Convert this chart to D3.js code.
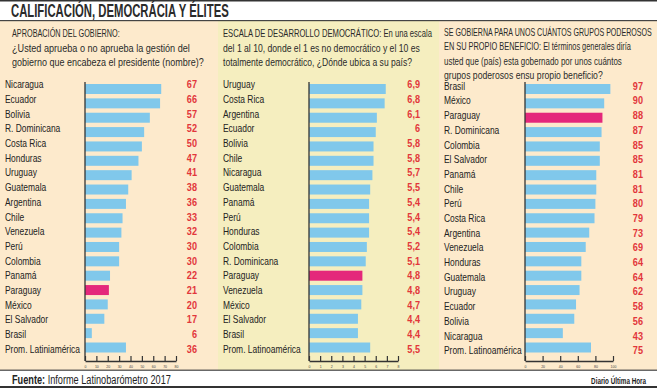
<!DOCTYPE html>
<html>
<head>
<meta charset="utf-8">
<script src="https://d3js.org/d3.v7.min.js"></script>
<style>
  body { margin: 0; background: #fff; }
  svg text { font-family: "Liberation Sans", Arial, sans-serif; }
</style>
</head>
<body>
<div id="chart"></div>
<script>
var width = 657, height = 388;

// Aprobación del gobierno (%)
var aprobCats = ["Nicaragua", "Ecuador", "Bolivia", "R. Dominicana", "Costa Rica", "Honduras", "Uruguay",
  "Guatemala", "Argentina", "Chile", "Venezuela", "Perú", "Colombia", "Panamá", "Paraguay", "México",
  "El Salvador", "Brasil", "Prom. Latiniamérica"];
var aprobVals = [67, 66, 57, 52, 50, 47, 41, 38, 36, 33, 32, 30, 30, 22, 21, 20, 17, 6, 36];
var aprobTicks = [0, 10, 20, 30, 40, 50, 60, 70, 80];

// Escala de desarrollo democrático (1-10)
var escalaCats = ["Uruguay", "Costa Rica", "Argentina", "Ecuador", "Bolivia", "Chile", "Nicaragua",
  "Guatemala", "Panamá", "Perú", "Honduras", "Colombia", "R. Dominicana", "Paraguay", "Venezuela",
  "México", "El Salvador", "Brasil", "Prom. Latinoamérica"];
var escalaVals = [6.9, 6.8, 6.1, 6, 5.8, 5.8, 5.7, 5.5, 5.4, 5.4, 5.4, 5.2, 5.1, 4.8, 4.8, 4.7, 4.4, 4.4, 5.5];
var escalaTicks = [0, 1, 2, 3, 4, 5, 6, 7, 8];

// Gobernado por unos cuántos grupos poderosos (%)
var elitesCats = ["Brasil", "México", "Paraguay", "R. Dominicana", "Colombia", "El Salvador", "Panamá",
  "Chile", "Perú", "Costa Rica", "Argentina", "Venezuela", "Honduras", "Guatemala", "Uruguay", "Ecuador",
  "Bolivia", "Nicaragua", "Prom. Latinoamérica"];
var elitesVals = [97, 90, 88, 87, 85, 85, 81, 81, 80, 79, 73, 69, 64, 64, 62, 58, 56, 43, 75];
var elitesTicks = [0, 20, 40, 60, 80, 100];

var aprobHeader = ["APROBACIÓN DEL GOBIERNO:",
  "¿Usted aprueba o no aprueba la gestión del",
  "gobierno que encabeza el presidente (nombre)?"];
var escalaHeader = ["ESCALA DE DESARROLLO DEMOCRÁTICO: En una escala",
  "del 1 al 10, donde el 1 es no democrático y el 10 es",
  "totalmente democrático, ¿Dónde ubica a su país?"];
var elitesHeader = ["SE GOBIERNA PARA UNOS CUÁNTOS GRUPOS PODEROSOS",
  "EN SU PROPIO BENEFICIO: El términos generales diría",
  "usted que (país) esta gobernado por unos cuántos",
  "grupos poderosos ensu propio beneficio?"];

var highlight = "Paraguay";

var svg = d3.select("#chart").append("svg")
  .attr("width", width)
  .attr("height", height);

// the original uses a condensed face; squeeze Liberation Sans horizontally to match
function widthOf(str, size, weight) {
  var t = svg.append("text").attr("font-size", size).attr("font-weight", weight || "normal").text(str);
  var w = t.node().getComputedTextLength();
  t.remove();
  return w;
}
function squeeze(sel, k) {
  sel.each(function (d, i) {
    var t = d3.select(this);
    var x = +t.attr("x"), y = +t.attr("y");
    var s = typeof k === "function" ? k(d, i) : k;
    t.attr("x", 0).attr("y", 0).attr("transform", "translate(" + x + "," + y + ") scale(" + s + ",1)");
  });
}

var kTitle = 218 / widthOf("CALIFICACIÓN, DEMOCRÁCIA Y ÉLITES", 18, "bold");
var kLab = 75 / widthOf("Prom. Latiniamérica", 10.3);
var kVal = 12.7 / widthOf("6,9", 10.5, "bold");
var kSrc = 157 / widthOf("Fuente: Informe Latinobarómetro 2017", 12.5);
var kFirm = 55 / widthOf("Diario Última Hora", 8.5, "bold");

// title bar
svg.append("rect").attr("x", 0).attr("y", 0).attr("width", width).attr("height", 1.5).attr("fill", "#333");
svg.append("text")
  .attr("x", 11).attr("y", 17)
  .attr("font-size", 18).attr("font-weight", "bold").attr("fill", "#2b2b2b")
  .text("CALIFICACIÓN, DEMOCRÁCIA Y ÉLITES")
  .call(squeeze, kTitle);

var commaFmt = function (v) { return String(v).replace(".", ","); };

function panel(p) {
  var g = svg.append("g");
  g.append("rect").attr("x", p.x0).attr("y", 21).attr("width", p.w).attr("height", 349).attr("fill", p.bg);

  // header lines, each squeezed to the width it has in the original
  g.selectAll(".hdr").data(p.header).enter().append("text")
    .attr("x", p.hx)
    .attr("y", function (d, i) { return p.hy + i * p.hs; })
    .attr("font-size", 10.3).attr("fill", "#2a2a2a")
    .text(function (d) { return d; })
    .call(squeeze, function (d, i) { return p.hw[i] / widthOf(d, 10.3); });

  var x = d3.scaleLinear().domain([0, d3.max(p.ticks)]).range([p.ax, p.ax + p.axw]);
  var yBar = d3.scaleBand().domain(p.cats).range([84, 352.5]).paddingInner(0.304).paddingOuter(0);
  var yLab = d3.scalePoint().domain(p.cats).range([88.3 + p.dy, 352.7 + p.dy]);

  g.selectAll(".bar").data(p.cats).enter().append("rect")
    .attr("x", x(0))
    .attr("y", function (d) { return yBar(d); })
    .attr("width", function (d, i) { return x(p.vals[i]) - x(0); })
    .attr("height", yBar.bandwidth())
    .attr("fill", function (d) { return d === highlight ? "#e4287b" : "#80c8eb"; });

  g.selectAll(".lab").data(p.cats).enter().append("text")
    .attr("x", p.x0 + 5)
    .attr("y", function (d) { return yLab(d); })
    .attr("font-size", 10.3).attr("fill", "#222")
    .text(function (d) { return d; })
    .call(squeeze, kLab);

  g.selectAll(".val").data(p.cats).enter().append("text")
    .attr("x", p.vx)
    .attr("y", function (d) { return yLab(d); })
    .attr("text-anchor", "end")
    .attr("font-size", 10.5).attr("font-weight", "bold").attr("fill", "#e2363b")
    .text(function (d, i) { return p.fmt(p.vals[i]); })
    .call(squeeze, kVal);

  // vertical axis line
  g.append("line")
    .attr("x1", x(0)).attr("x2", x(0))
    .attr("y1", 82).attr("y2", 361)
    .attr("stroke", "#333").attr("stroke-width", 1.3);

  var axis = g.append("g")
    .attr("transform", "translate(0,361)")
    .call(d3.axisBottom(x).tickValues(p.ticks).tickSize(-5).tickSizeOuter(0).tickPadding(5));
  axis.select(".domain").attr("stroke", "#333").attr("stroke-width", 1.3);
  axis.selectAll(".tick line").attr("stroke", "#333").attr("stroke-width", 1.2);
  axis.selectAll("text").attr("font-size", 3.5).attr("fill", "#444")
    .attr("font-family", "'Liberation Sans', sans-serif");
}

panel({ x0: 0, w: 218, bg: "#fdeacc", header: aprobHeader, hx: 12, hy: 37, hs: 14.6, hw: [108, 178, 192],
  cats: aprobCats, vals: aprobVals, ticks: aprobTicks, ax: 85, axw: 91, vx: 197, dy: 0, fmt: String });
panel({ x0: 218, w: 221, bg: "#f5eebf", header: escalaHeader, hx: 223, hy: 37, hs: 14.6, hw: [209, 197, 189],
  cats: escalaCats, vals: escalaVals, ticks: escalaTicks, ax: 309, axw: 89, vx: 420, dy: 0, fmt: commaFmt });
panel({ x0: 439, w: 218, bg: "#fdeacc", header: elitesHeader, hx: 444, hy: 36, hs: 14.4, hw: [208, 187, 178, 159],
  cats: elitesCats, vals: elitesVals, ticks: elitesTicks, ax: 525, axw: 88, vx: 643, dy: 1.5, fmt: String });

// separators
svg.append("rect").attr("x", 0).attr("y", 20).attr("width", width).attr("height", 1.2).attr("fill", "#444");
svg.append("rect").attr("x", 0).attr("y", 369.6).attr("width", width).attr("height", 1.2).attr("fill", "#444");
svg.append("rect").attr("x", 0).attr("y", 386).attr("width", width).attr("height", 2).attr("fill", "#333");

// footer
var src = svg.append("text").attr("x", 12).attr("y", 383.5).attr("font-size", 12.5).attr("fill", "#222");
src.append("tspan").attr("font-weight", "bold").text("Fuente:");
src.append("tspan").text(" Informe Latinobarómetro 2017");
src.call(squeeze, kSrc);

svg.append("text")
  .attr("x", 646).attr("y", 383.5).attr("text-anchor", "end")
  .attr("font-size", 8.5).attr("font-weight", "bold").attr("fill", "#222")
  .text("Diario Última Hora")
  .call(squeeze, kFirm);
</script>
</body>
</html>
